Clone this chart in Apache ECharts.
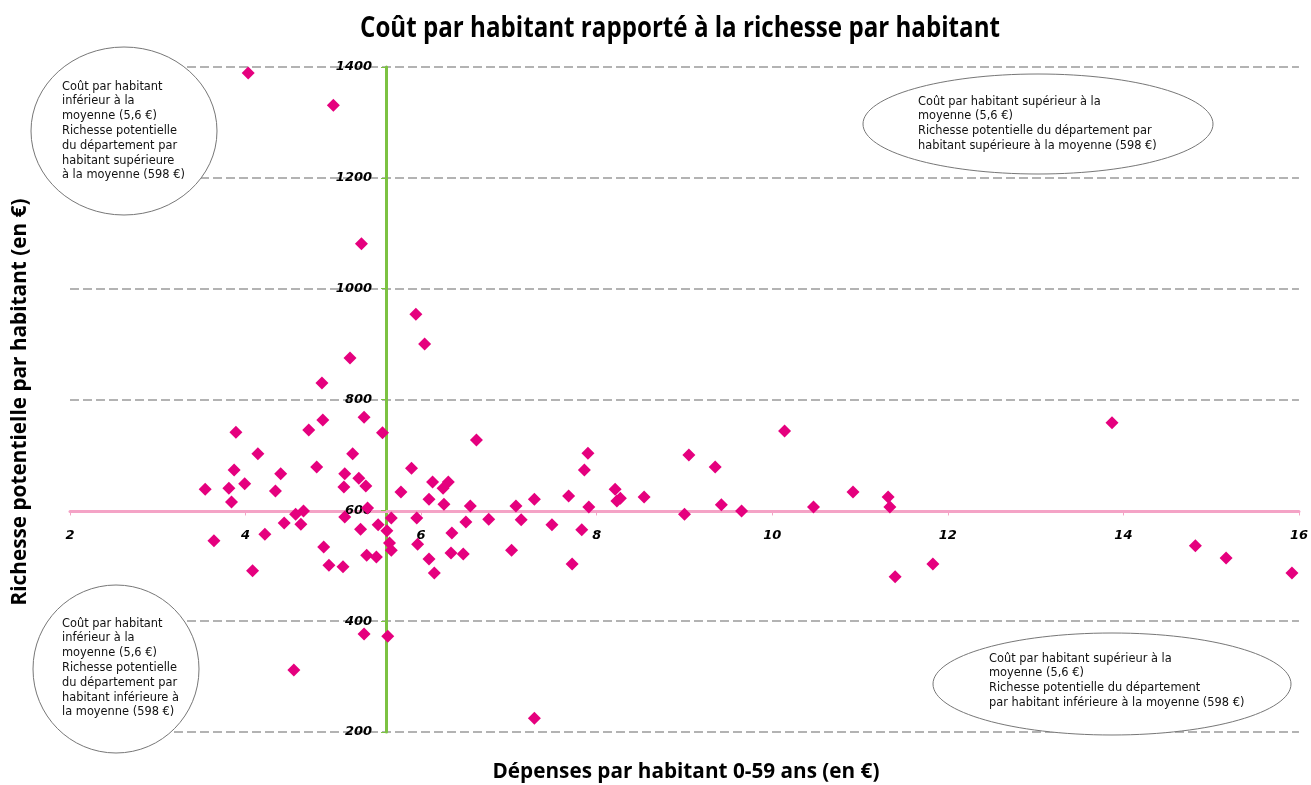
<!DOCTYPE html>
<html><head><meta charset="utf-8">
<script src="https://cdn.jsdelivr.net/npm/echarts@6/dist/echarts.min.js"></script>
<style>html,body{margin:0;padding:0;background:#fff}#c{width:1311px;height:785px}</style>
</head><body><div id="c"></div>
<script>
// Dépenses par habitant 0-59 ans (€)
const depenses = [4.03,5.00,5.32,5.94,6.04,5.19,4.87,5.35,4.88,4.72,3.89,5.56,6.63,4.14,5.22,7.90,9.05,10.14,13.87,9.35,
  5.89,7.86,3.87,4.81,4.40,5.13,5.29,3.99,5.37,3.81,3.54,4.34,5.12,5.77,6.13,6.31,6.25,6.09,6.26,6.56,
  7.08,7.29,7.68,7.91,8.21,8.23,8.27,8.54,9.00,9.42,9.65,10.47,10.92,11.32,11.34,3.84,4.66,4.57,5.39,5.13,
  4.44,4.63,5.66,5.51,5.31,5.61,4.22,3.64,5.64,4.89,5.66,5.38,5.49,4.95,5.11,4.08,5.95,6.51,6.77,7.14,
  7.49,7.83,6.35,5.96,6.09,6.34,6.48,7.03,7.72,6.15,14.82,15.17,15.92,11.40,11.83,4.55,7.29,5.35,5.62];
// Richesse potentielle par habitant (€)
const richesse = [1389,1331,1081,954,900,875,830,768,763,745,741,740,727,702,702,703,700,743,758,678,
  676,673,673,678,666,666,658,648,644,640,638,635,642,633,651,651,640,620,611,608,
  608,620,626,606,638,617,622,624,593,610,599,606,633,624,606,615,599,593,604,588,
  577,575,586,574,566,563,557,545,541,534,528,519,516,501,498,491,586,579,584,583,
  574,565,559,539,512,523,521,528,503,487,536,514,487,480,503,312,225,377,373];
const meanCost = 5.6;
const meanWealth = 598;
const xTicks = {min: 2, max: 16, interval: 2};
const yTicks = {min: 200, max: 1400, interval: 200};
const titleText = 'Coût par habitant rapporté à la richesse par habitant';
const xName = 'Dépenses par habitant 0-59 ans (en €)';
const yName = 'Richesse potentielle par habitant (en €)';
const notes = [
  'Coût par habitant\ninférieur à la\nmoyenne (5,6 €)\nRichesse potentielle\ndu département par\nhabitant supérieure\nà la moyenne (598 €)',
  'Coût par habitant supérieur à la\nmoyenne (5,6 €)\nRichesse potentielle du département par\nhabitant supérieure à la moyenne (598 €)',
  'Coût par habitant\ninférieur à la\nmoyenne (5,6 €)\nRichesse potentielle\ndu département par\nhabitant inférieure à\nla moyenne (598 €)',
  'Coût par habitant supérieur à la\nmoyenne (5,6 €)\nRichesse potentielle du département\npar habitant inférieure à la moyenne (598 €)'
];

const points = depenses.map((x, i) => [x, richesse[i]]);
const G = {left: 70, right: 11, top: 67, bottom: 53};
const W = 1311, H = 785;
const noteFont = '12px "DejaVu Sans"';
const titleFont = 'bold 28px "Open Sans"';
const nameFont = 'bold 21px "Open Sans"';

const mctx = document.createElement('canvas').getContext('2d');
function widthOf(text, font) { mctx.font = font; return mctx.measureText(text).width; }

function ell(cx, cy, rx, ry) {
  return {type: 'ellipse', z: 1, shape: {cx, cy, rx, ry},
    style: {fill: '#fff', stroke: '#777', lineWidth: 1}};
}
function note(x, y, t) {
  return {type: 'text', z: 1, x, y, scaleX: 0.95, style: {text: t, font: noteFont, fill: '#111', lineHeight: 14.8, textVerticalAlign: 'top'}};
}
function fitText(text, font, x, y, targetW, rot) {
  const s = targetW / widthOf(text, font);
  return {type: 'text', z: 1, x, y, rotation: rot || 0, scaleX: s, scaleY: 1.05,
    style: {text, font, fill: '#000', textAlign: 'center', textVerticalAlign: 'middle'}};
}

const chart = echarts.init(document.getElementById('c'), null, {renderer: 'canvas'});
const axisLabelStyle = {color: '#000', fontFamily: 'DejaVu Sans', fontWeight: 'bold', fontStyle: 'italic', fontSize: 13,
  formatter: v => String(v)};
const option = {
  animation: false,
  backgroundColor: '#fff',
  grid: {left: G.left, right: G.right, top: G.top, bottom: G.bottom, containLabel: false},
  xAxis: {
    type: 'value', min: xTicks.min, max: xTicks.max, interval: xTicks.interval,
    position: 'bottom',
    axisLine: {onZero: false, lineStyle: {color: '#f4a3c6', width: 3}},
    axisTick: {show: true, length: 4, lineStyle: {color: '#f4a3c6', width: 1}},
    axisLabel: Object.assign({margin: 18}, axisLabelStyle),
    splitLine: {show: false}
  },
  yAxis: {
    type: 'value', min: yTicks.min, max: yTicks.max, interval: yTicks.interval,
    position: 'left',
    axisLine: {onZero: false, lineStyle: {color: '#7cc242', width: 3}},
    axisTick: {show: true, length: 5, lineStyle: {color: '#7cc242', width: 1}},
    axisLabel: Object.assign({margin: 14}, axisLabelStyle),
    splitLine: {show: true, lineStyle: {color: '#9a9a9a', width: 1.5, type: [9, 4]}}
  },
  series: [{
    type: 'scatter', data: points, symbol: 'diamond', symbolSize: 13, z: 3,
    itemStyle: {color: '#e5007e', opacity: 1}
  }],
  graphic: [
    ell(124, 131, 93, 84), note(62, 79, notes[0]),
    ell(1038, 124, 175, 50), note(918, 94, notes[1]),
    ell(116, 669, 83, 84), note(62, 616, notes[2]),
    ell(1112, 684, 179, 51), note(989, 651, notes[3]),
    fitText(titleText, titleFont, 680, 29, 640, 0),
    fitText(xName, nameFont, 686, 772, 387, 0),
    fitText(yName, nameFont, 20, 402, 407, Math.PI / 2)
  ]
};
chart.setOption(option);
const py = chart.convertToPixel({yAxisIndex: 0}, meanWealth);
const px = chart.convertToPixel({xAxisIndex: 0}, meanCost);
chart.setOption({
  xAxis: {offset: -((H - G.bottom) - py)},
  yAxis: {offset: -(px - G.left)}
});
</script></body></html>
